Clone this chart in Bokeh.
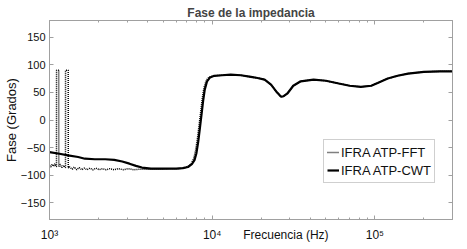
from bokeh.plotting import figure
from bokeh.models import (FixedTicker, LogAxis, LinearAxis, Legend, LegendItem,
                          Range1d)
from bokeh.embed import file_html
from bokeh.resources import INLINE

# ---------------- data ----------------
title_text = "Fase de la impedancia"
x_label = "Frecuencia (Hz)"
x_label_pos = 28400          # frequency under which the x label is centred
y_label = "Fase (Grados)"
series_names = ["IFRA ATP-FFT", "IFRA ATP-CWT"]

x_ticks = [1000, 10000, 100000]
x_tick_labels = ["10\u00b3", "10\u2074", "10\u2075"]
x_minor = [2000, 3000, 4000, 5000, 6000, 7000, 8000, 9000,
           20000, 30000, 40000, 50000, 60000, 70000, 80000, 90000,
           200000, 300000]
y_ticks = [-150, -100, -50, 0, 50, 100, 150]

cwt_f = [1000, 1150, 1300, 1500, 1650, 1900, 2200, 2500, 2800, 3100, 3400,
         3700, 4200, 5000, 6000, 6600, 7100, 7500, 7800, 8000, 8200, 8400,
         8600, 8800, 9000, 9300, 9700, 10300, 11500, 13000, 15000, 17300,
         19000, 21000, 23000, 25000, 26500, 27500, 29000, 31500, 35000,
         42000, 50000, 60000, 70000, 82000, 95000, 104000, 120000, 138000,
         160000, 200000, 250000, 300000]
cwt_p = [-58, -61, -64, -67, -70, -71, -71, -72, -75, -79, -83,
         -86, -88, -88, -88, -87, -85, -80, -72, -60, -40, -15,
         10, 35, 55, 70, 77, 80, 81, 82, 81, 78,
         76, 73, 64, 50, 42, 43, 48, 62, 70,
         73, 71, 66, 62, 60, 62, 67, 75, 80,
         84, 87, 88, 88]

fft_f = [1000, 1020, 1040, 1060, 1080, 1095, 1104, 1105, 1140, 1141, 1160,
         1190, 1220, 1245, 1254, 1255, 1303, 1304, 1320, 1340, 1380, 1420,
         1470, 1520, 1580, 1640, 1700, 1770, 1850, 1930, 2020, 2120, 2230,
         2350, 2500, 2650, 2850, 3050, 3300, 3600, 4000, 4500, 5000, 5600,
         6200, 6700, 7100, 7400, 7700, 7900, 8100, 8300, 8500, 8700, 8900,
         9200, 9600, 10300, 11500, 13000, 15000, 17300, 19000, 21000, 23000,
         25000, 26500, 27500, 29000, 31500, 35000, 42000, 50000, 60000,
         70000, 82000, 95000, 104000, 120000, 138000, 160000, 200000,
         250000, 300000]
fft_p = [-82, -85, -80, -84, -79, -84, -84, 90, 90, -85, -80,
         -86, -82, -86, -86, 90, 90, -87, -84, -86, -89, -85,
         -90, -86, -90, -87, -90, -87, -90, -87, -90, -88, -90,
         -88, -90, -88, -90, -88, -90, -89, -89, -89, -89, -88,
         -88, -87, -84, -80, -70, -55, -35, -10, 15, 40, 58,
         72, 78, 80, 81, 82, 81, 78, 76, 73, 64,
         50, 42, 43, 48, 62, 70, 73, 71, 66,
         62, 60, 62, 67, 75, 80, 84, 87,
         88, 88]

# ---------------- figure ----------------
FONT = "Liberation Sans"
GREY = "#a0a0a0"

p = figure(width=467, height=249, x_axis_type="log",
           x_range=Range1d(1000, 300000), y_range=Range1d(-180, 180),
           output_backend="svg", toolbar_location=None,
           min_border_left=48, min_border_right=15,
           min_border_top=20, min_border_bottom=30)
p.background_fill_color = "white"
p.border_fill_color = "white"
p.outline_line_color = GREY
p.xgrid.visible = False
p.ygrid.visible = False

p.title.text = title_text
p.title.text_font = FONT
p.title.text_font_style = "bold"
p.title.text_font_size = "12px"
p.title.align = "center"
p.title.standoff = 2
p.title.offset = 0


def style_axis(ax, labels=True):
    ax.axis_line_color = GREY
    ax.major_tick_line_color = GREY
    ax.minor_tick_line_color = GREY
    ax.major_tick_in = 4
    ax.major_tick_out = 0
    ax.minor_tick_in = 2
    ax.minor_tick_out = 0
    ax.major_label_text_font = FONT
    ax.major_label_text_color = "#111111"
    if labels:
        ax.major_label_text_font_size = "11px"
    else:
        ax.major_label_text_font_size = "1px"
        ax.major_label_text_alpha = 0
        ax.major_label_standoff = 0


# bottom axis: ticks only
bx = p.below[0]
bx.ticker = FixedTicker(ticks=x_ticks, minor_ticks=x_minor)
style_axis(bx, labels=False)

# bottom labels (tick labels + axis title on the same row)
lab_ticks = [x_ticks[0], x_ticks[1], x_label_pos, x_ticks[2]]
lab_text = [x_tick_labels[0], x_tick_labels[1], x_label, x_tick_labels[2]]
lx = LogAxis(ticker=FixedTicker(ticks=lab_ticks, minor_ticks=[]))
lx.axis_line_color = None
lx.major_tick_line_color = None
lx.minor_tick_line_color = None
lx.major_tick_out = 0
lx.major_tick_in = 0
lx.major_label_standoff = 8
lx.major_label_text_font = FONT
lx.major_label_text_font_size = "12px"
lx.major_label_text_color = "#111111"
lx.major_label_overrides = {t: s for t, s in zip(lab_ticks, lab_text)}
p.add_layout(lx, "below")

ly = p.left[0]
ly.ticker = FixedTicker(ticks=y_ticks)
style_axis(ly)
ly.minor_tick_line_color = None
ly.major_label_standoff = 4
ly.axis_label = y_label
ly.axis_label_text_font = FONT
ly.axis_label_text_font_style = "normal"
ly.axis_label_text_font_size = "13px"
ly.axis_label_text_color = "#111111"
ly.axis_label_standoff = -1

top_ax = LogAxis(ticker=FixedTicker(ticks=x_ticks, minor_ticks=x_minor))
style_axis(top_ax, labels=False)
p.add_layout(top_ax, "above")

right_ax = LinearAxis(ticker=FixedTicker(ticks=y_ticks))
style_axis(right_ax, labels=False)
right_ax.minor_tick_line_color = None
p.add_layout(right_ax, "right")

r_fft = p.line(fft_f, fft_p, line_color="black", line_width=1.5,
               line_dash="1 1")
r_cwt = p.line(cwt_f, cwt_p, line_color="black", line_width=2.2)

legend = Legend(items=[LegendItem(label=series_names[0], renderers=[r_fft]),
                       LegendItem(label=series_names[1], renderers=[r_cwt])],
                location=(274, 36))
legend.label_text_font = FONT
legend.label_text_font_size = "13px"
legend.label_text_color = "#111111"
legend.border_line_color = GREY
legend.padding = 3
legend.spacing = 0
legend.margin = 0
legend.glyph_width = 12
legend.glyph_height = 18
legend.label_height = 18
legend.label_standoff = 2
p.add_layout(legend)

open("out.html", "w").write(file_html(p, INLINE))
